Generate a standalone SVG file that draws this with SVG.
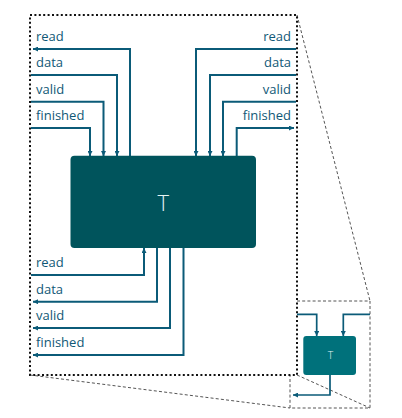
<svg xmlns="http://www.w3.org/2000/svg" width="402" height="418" viewBox="0 0 402 418">
<defs>
<style>
.lbl{font-family:"Open Sans","Noto Sans","DejaVu Sans",sans-serif;font-size:13px;fill:#105876}
.w{stroke:#0b5b78;stroke-width:2;fill:none}
.ws{stroke:#0b5b78;stroke-width:1.7;fill:none}
.dot{stroke:#111;stroke-width:2;fill:none;stroke-dasharray:2 2.4}
.dash{stroke:#555;stroke-width:1;fill:none;stroke-dasharray:3 2.2}
</style>
<marker id="ah" viewBox="0 0 6 6" refX="6" refY="3" markerWidth="6" markerHeight="5" orient="auto" markerUnits="userSpaceOnUse">
<path d="M0,0 L6,3 L0,6 z" fill="#0b5b78"/>
</marker>
</defs>
<rect width="402" height="418" fill="#fff"/>
<g id="zoom-frame">
<path class="dash" d="M297,15 L370,301 M297,375 L370,408 M30,375 L290,408 M297,301 L370,301 L370,408 L290,408 L290,375"/>
<rect class="dot" x="30" y="15" width="267" height="360"/>
</g>
<g id="connectors">
<path class="w" d="M130,156 V49 H33" marker-end="url(#ah)"/>
<path class="w" d="M31,75 H117 V156" marker-end="url(#ah)"/>
<path class="w" d="M31,101.7 H103.5 V156" marker-end="url(#ah)"/>
<path class="w" d="M31,128 H90 V156" marker-end="url(#ah)"/>
<path class="w" d="M296,49 H196 V156" marker-end="url(#ah)"/>
<path class="w" d="M296,75 H210 V156" marker-end="url(#ah)"/>
<path class="w" d="M296,101.7 H223 V156" marker-end="url(#ah)"/>
<path class="w" d="M236.7,156 V128 H294" marker-end="url(#ah)"/>
<path class="w" d="M31,275 H144 V248" marker-end="url(#ah)"/>
<path class="w" d="M157,248 V301.7 H33" marker-end="url(#ah)"/>
<path class="w" d="M170,248 V328 H33" marker-end="url(#ah)"/>
<path class="w" d="M183.5,248 V355 H33" marker-end="url(#ah)"/>
<path class="ws" d="M297,314.3 H316.7 V336" marker-end="url(#ah)"/>
<path class="ws" d="M370,314.3 H343.3 V336" marker-end="url(#ah)"/>
<path class="ws" d="M330,375 V395 H293" marker-end="url(#ah)"/>
</g>
<g id="labels">
<text class="lbl" x="36" y="41">read</text>
<text class="lbl" x="36" y="67.3">data</text>
<text class="lbl" x="36" y="93.5">valid</text>
<text class="lbl" x="36" y="120">finished</text>
<text class="lbl" x="291" y="41" text-anchor="end">read</text>
<text class="lbl" x="291" y="67.3" text-anchor="end">data</text>
<text class="lbl" x="291" y="93.5" text-anchor="end">valid</text>
<text class="lbl" x="291" y="120" text-anchor="end">finished</text>
<text class="lbl" x="36" y="267.3">read</text>
<text class="lbl" x="36" y="293.7">data</text>
<text class="lbl" x="36" y="320">valid</text>
<text class="lbl" x="36" y="346.7">finished</text>
</g>
<g id="node-T">
<rect x="70.5" y="155.7" width="185.5" height="92.3" rx="4" fill="#00545c"/>
<text x="163.3" y="210.5" text-anchor="middle" font-family="Open Sans, Noto Sans, DejaVu Sans, sans-serif" font-weight="300" font-size="22" fill="#e6f4f4">T</text>
</g>
<g id="node-T-small">
<rect x="303.3" y="336" width="52.7" height="39" rx="3" fill="#00717b"/>
<text x="330.5" y="358.5" text-anchor="middle" font-family="Open Sans, Noto Sans, DejaVu Sans, sans-serif" font-weight="300" font-size="10.5" fill="#e6f4f4">T</text>
</g>
</svg>
